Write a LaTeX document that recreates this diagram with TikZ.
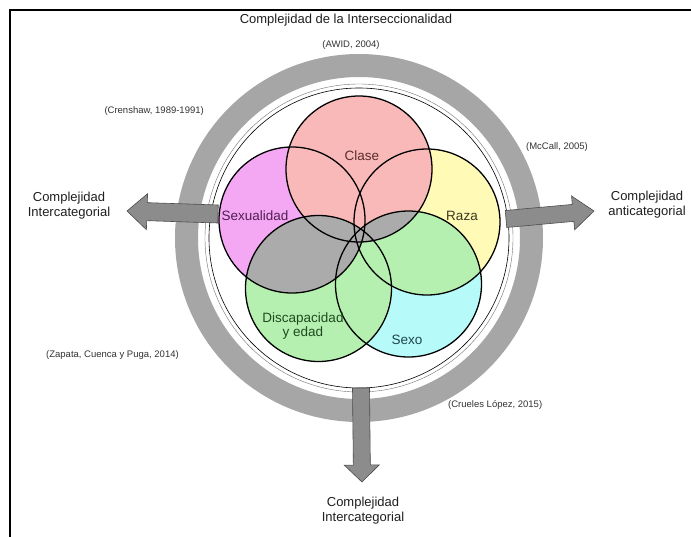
\documentclass[tikz,border=0pt]{standalone}
\usepackage{fontspec}
\setmainfont{Liberation Sans}
\usetikzlibrary{calc}
\definecolor{ringgray}{HTML}{A6A6A6}
\definecolor{ovgray}{HTML}{ABABAB}
\definecolor{arrowgray}{HTML}{8C8C8C}
\definecolor{cpink}{HTML}{FAB9B9}
\definecolor{cmag}{HTML}{F4A8F4}
\definecolor{cyel}{HTML}{FFFAB6}
\definecolor{cgreen}{HTML}{B6F0B0}
\definecolor{ccyan}{HTML}{B6FAFA}
\newcommand\myblockarrow[5]{%
  \coordinate (#1hb) at ($(#2)!#5!(#1)$);
  \draw[blockarrow] ($(#1)!#3!90:(#2)$) -- ($(#1hb)!#3!90:(#2)$) -- ($(#1hb)!#4!90:(#2)$)
    -- (#2) -- ($(#1hb)!#4!-90:(#2)$) -- ($(#1hb)!#3!-90:(#2)$) -- ($(#1)!#3!-90:(#2)$) -- cycle;}
\begin{document}
\begin{tikzpicture}[x=1pt,y=-1pt,
  venn/.style={draw=black,line width=1.3pt},
  blockarrow/.style={fill=arrowgray,draw=black!70,line width=0.6pt,line join=miter},
  mainlabel/.style={font=\fontsize{13}{15}\selectfont,align=center,text=black!88,inner sep=0pt},
  citetext/.style={font=\fontsize{9.5}{11}\selectfont,text=black!80,inner sep=0pt},
  vlabel/.style={font=\fontsize{13.5}{14}\selectfont,align=center,inner sep=0pt}]
\useasboundingbox (0,0) rectangle (691,536);
\fill[white] (0,0) rectangle (691,536);
\draw[line width=2.5pt] (10,545) -- (10,10) -- (700,10);

% ring
\coordinate (C) at (359,238);
\fill[ringgray,even odd rule] (C) circle (184pt) (C) circle (161pt);
\draw[black!55,line width=0.4pt] (C) circle (154pt);
\draw[black,line width=0.6pt] (C) circle (150pt);

% block arrows
\coordinate (LAs) at (218,214); \coordinate (LAt) at (127,211);
\coordinate (RAs) at (506,219); \coordinate (RAt) at (594,211);
\coordinate (DAs) at (361,388); \coordinate (DAt) at (362,482);
\myblockarrow{LAs}{LAt}{9pt}{18pt}{20pt}
\myblockarrow{RAs}{RAt}{8.5pt}{17pt}{21pt}
\myblockarrow{DAs}{DAt}{8.5pt}{17.5pt}{17pt}

% venn circles
\coordinate (cl) at (359,169);
\coordinate (sx) at (292,220);
\coordinate (rz) at (427,222);
\coordinate (dc) at (318.5,288.5);
\coordinate (so) at (408.5,284);
\fill[cyel] (rz) circle (73pt);
\fill[ccyan] (so) circle (73pt);
\fill[cmag] (sx) circle (73pt);
\fill[cgreen] (dc) circle (73pt);
\fill[cpink] (cl) circle (73pt);
\begin{scope}\clip (rz) circle (73pt); \fill[cgreen] (so) circle (73pt);\end{scope}
\begin{scope}\clip (sx) circle (73pt); \fill[ovgray] (dc) circle (73pt);\end{scope}
\begin{scope}\clip (cl) circle (73pt); \fill[ovgray] (so) circle (73pt);\end{scope}
\foreach \c in {cl,sx,rz,dc,so} {\draw[venn] (\c) circle (73pt);}

% venn labels
\node[vlabel,text={rgb,255:red,90;green,45;blue,45}] (lclase) at (362,156) {Clase};
\node[vlabel,text={rgb,255:red,80;green,30;blue,80}] (lsex) at (255,216) {Sexualidad};
\node[vlabel,text={rgb,255:red,60;green,55;blue,30}] (lraza) at (462,216) {Raza};
\node[vlabel,text={rgb,255:red,30;green,75;blue,30}] (ldis) at (303,326) {Discapacidad\\y edad};
\node[vlabel,text={rgb,255:red,30;green,70;blue,75}] (lsexo) at (407,340) {Sexo};

% texts
\node[mainlabel] (title) at (346,20) {Complejidad de la Interseccionalidad};
\node[citetext] (awid) at (351,45) {(AWID, 2004)};
\node[citetext,anchor=east] (cren) at (204,111) {(Crenshaw, 1989-1991)};
\node[citetext] (mcc) at (557,147) {(McCall, 2005)};
\node[citetext,anchor=west] (zap) at (46,355) {(Zapata, Cuenca y Puga, 2014)};
\node[citetext,anchor=west] (cru) at (448,405) {(Crueles López, 2015)};
\node[mainlabel] (lab1) at (69,206) {Complejidad\\Intercategorial};
\node[mainlabel] (lab2) at (647,205) {Complejidad\\anticategorial};
\node[mainlabel] (lab3) at (363,511) {Complejidad\\Intercategorial};
\end{tikzpicture}
\end{document}
